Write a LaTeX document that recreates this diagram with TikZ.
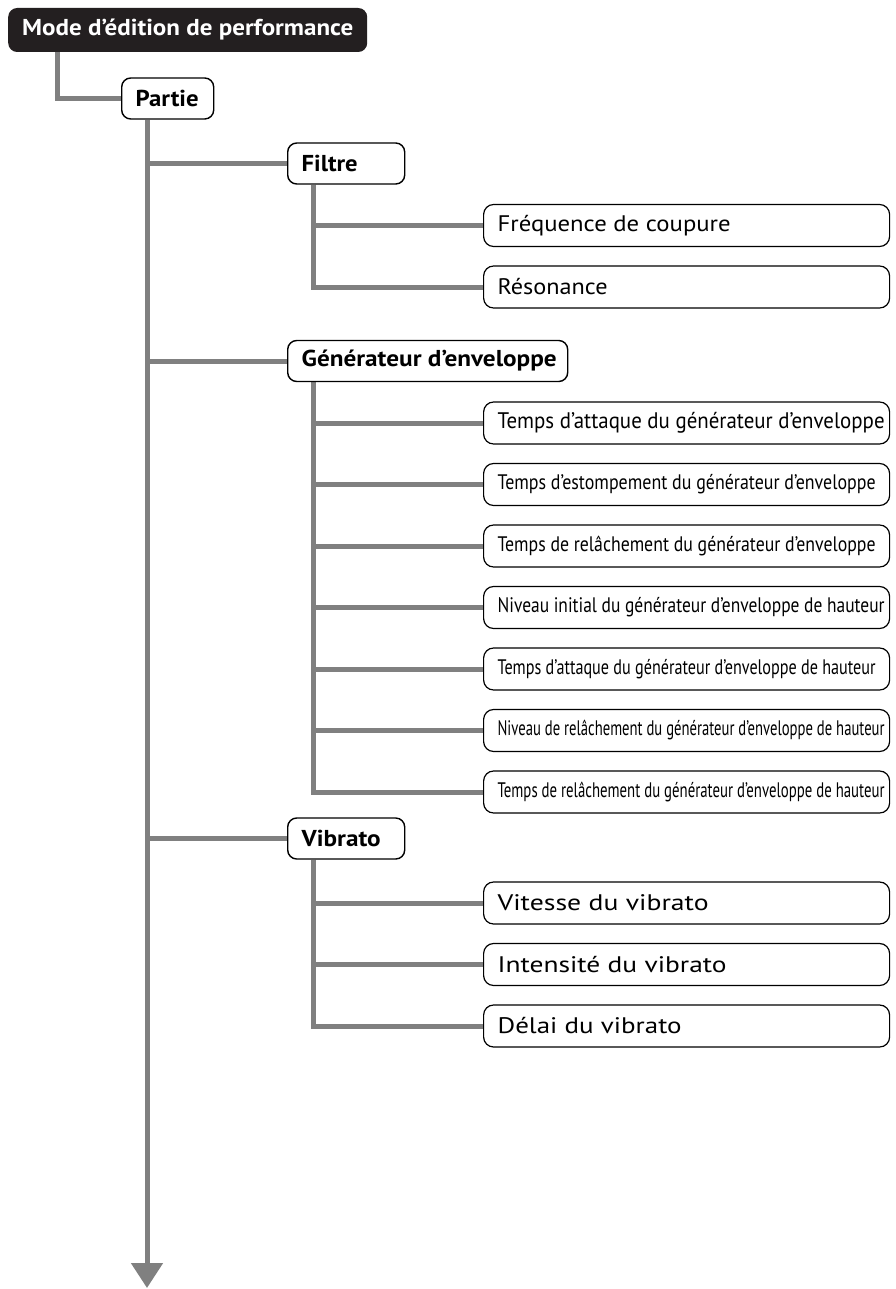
\documentclass[tikz,border=0pt]{standalone}
\usepackage{fontspec}
\setmainfont{PT Sans}
\usetikzlibrary{arrows.meta,backgrounds}
\definecolor{linegray}{HTML}{808080}
\definecolor{titlebk}{HTML}{231F20}
\newcommand\fitw[2]{\resizebox{#1pt}{\height}{#2}}
\begin{document}
\begin{tikzpicture}[x=1pt,y=-1pt,
  conn/.style={draw=linegray, line width=5pt},
  titlebox/.style={fill=titlebk, rounded corners=9pt, text=white, font=\bfseries\fontsize{23}{26}\selectfont, anchor=west, inner xsep=14pt, inner ysep=0pt, minimum height=44pt},
  headbox/.style={draw=black, line width=1.4pt, fill=white, rounded corners=9pt, font=\bfseries\fontsize{23}{26}\selectfont, anchor=west, inner xsep=14pt, inner ysep=0pt, minimum height=41pt},
  leafbox/.style={draw=black, line width=1.2pt, fill=white, rounded corners=10pt, font=\fontsize{22.5}{26}\selectfont, anchor=west, inner xsep=14pt, inner ysep=0pt, minimum height=42pt},
  smallleaf/.style={leafbox, font=\fontsize{21}{24}\selectfont},
]
\useasboundingbox (0,0) rectangle (895,1289);

\node[titlebox] (mode) at (8,30) {\makebox[331pt][l]{\fitw{331}{Mode d’édition de performance}}};
\node[headbox] (partie) at (121,98.5) {\makebox[64pt][l]{\fitw{63}{Partie}}};

\node[headbox] (filtre) at (287,163.5) {\makebox[89pt][l]{\fitw{56}{Filtre}}};
\node[leafbox] (freq) at (483,225.5) {\makebox[378pt][l]{\fitw{233}{Fréquence de coupure}}};
\node[leafbox] (reso) at (483,287) {\makebox[378pt][l]{\fitw{110}{Résonance}}};

\node[headbox] (eg) at (287,361) {\makebox[252pt][l]{\fitw{255}{Générateur d’enveloppe}}};
\node[leafbox] (eg1) at (483,423) {\makebox[378pt][l]{\fitw{387}{Temps d’attaque du générateur d’enveloppe}}};
\node[smallleaf] (eg2) at (483,484.5) {\makebox[378pt][l]{\fitw{378}{Temps d’estompement du générateur d’enveloppe}}};
\node[smallleaf] (eg3) at (483,546) {\makebox[378pt][l]{\fitw{378}{Temps de relâchement du générateur d’enveloppe}}};
\node[smallleaf] (eg4) at (483,607.5) {\makebox[378pt][l]{\fitw{387}{Niveau initial du générateur d’enveloppe de hauteur}}};
\node[smallleaf] (eg5) at (483,669) {\makebox[378pt][l]{\fitw{378}{Temps d’attaque du générateur d’enveloppe de hauteur}}};
\node[smallleaf] (eg6) at (483,730.5) {\makebox[378pt][l]{\fitw{387}{Niveau de relâchement du générateur d’enveloppe de hauteur}}};
\node[smallleaf] (eg7) at (483,792) {\makebox[378pt][l]{\fitw{387}{Temps de relâchement du générateur d’enveloppe de hauteur}}};

\node[headbox] (vib) at (287,838.5) {\makebox[89pt][l]{\fitw{79}{Vibrato}}};
\node[leafbox] (v1) at (483,903) {\makebox[378pt][l]{\fitw{211}{Vitesse du vibrato}}};
\node[leafbox] (v2) at (483,964.5) {\makebox[378pt][l]{\fitw{229}{Intensité du vibrato}}};
\node[leafbox] (v3) at (483,1026) {\makebox[378pt][l]{\fitw{184}{Délai du vibrato}}};

\coordinate (trunkend) at (147,1288);

\begin{scope}[on background layer]
\draw[conn] ([xshift=49pt]mode.south west) |- (partie.west);
\draw[conn,-{Triangle[width=31pt,length=25pt]}] ([xshift=26pt]partie.south west) -- (trunkend);
\draw[conn] (filtre.west -| trunkend) -- (filtre.west);
\draw[conn] (eg.west -| trunkend) -- (eg.west);
\draw[conn] (vib.west -| trunkend) -- (vib.west);
\foreach \c in {freq,reso} \draw[conn] ([xshift=26pt]filtre.south west) |- (\c.west);
\foreach \c in {eg1,eg2,eg3,eg4,eg5,eg6,eg7} \draw[conn] ([xshift=26pt]eg.south west) |- (\c.west);
\foreach \c in {v1,v2,v3} \draw[conn] ([xshift=26pt]vib.south west) |- (\c.west);
\end{scope}
\end{tikzpicture}
\end{document}
